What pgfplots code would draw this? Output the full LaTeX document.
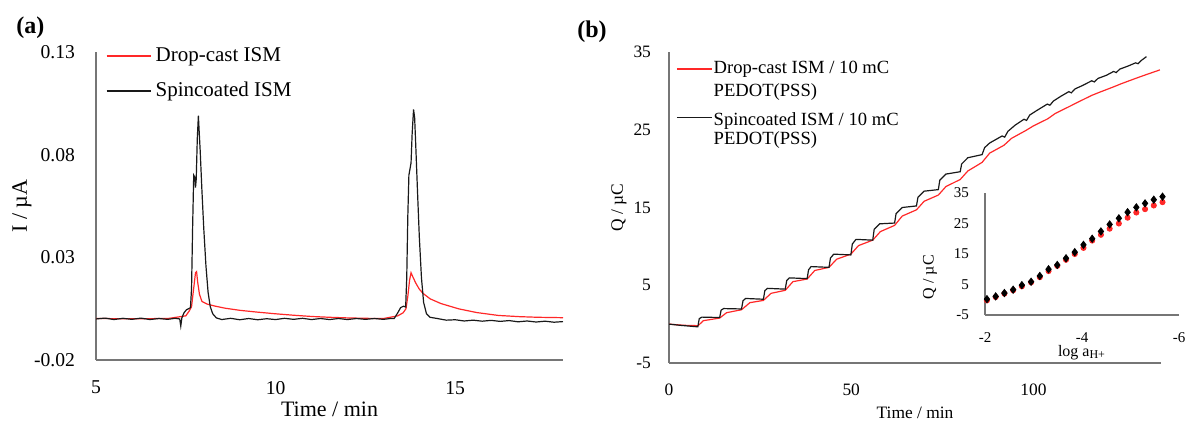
\documentclass[border=0pt]{standalone}
\usepackage{pgfplots}
\pgfplotsset{compat=1.18}
\usepackage{fontspec}
\setmainfont{Liberation Serif}
\definecolor{axgray}{RGB}{118,118,118}
\definecolor{myred}{RGB}{255,40,40}
\definecolor{myblack}{RGB}{25,25,25}
\pgfplotsset{
  myaxis/.style={
    scale only axis,
    axis x line*=bottom, axis y line*=left,
    axis line style={draw=axgray, line width=0.75pt, -},
    major tick length=0pt,
    tick style={draw=none},
  },
}
\begin{document}
\begin{tikzpicture}
\path[use as bounding box] (0,0) rectangle (593.5pt,211pt);
\node[font=\fontsize{12}{14}\selectfont\bfseries, anchor=west, inner sep=0pt] at (8pt,197pt) {(a)};
\node[font=\fontsize{12}{14}\selectfont\bfseries, anchor=west, inner sep=0pt] at (288.5pt,195pt) {(b)};

% ---------------- panel (a)
\begin{axis}[myaxis,
  at={(48pt,31pt)}, anchor=south west,
  width=233.5pt, height=154pt,
  xmin=5, xmax=18, ymin=-0.02, ymax=0.13,
  xtick={5,10,15}, xticklabels={5,10,15},
  ytick={-0.02,0.03,0.08,0.13}, yticklabels={-0.02,0.03,0.08,0.13},
  ticklabel style={font=\fontsize{9.8}{11}\selectfont},
  yticklabel style={xshift=-7pt},
  xticklabel style={yshift=-7pt},
  xlabel={Time / min}, ylabel={I / µA},
  label style={font=\fontsize{11}{13}\selectfont},
  xlabel style={at={(axis description cs:0.5,-0.159)}, anchor=center},
  ylabel style={at={(axis description cs:-0.1585,0.5)}, anchor=center},
  legend style={at={(axis description cs:0.02,1.03)}, anchor=north west, draw=none, fill=none,
    font=\fontsize{10.5}{12}\selectfont, row sep=5pt, inner sep=0pt},
  legend cell align=left,
  legend image code/.code={\draw[#1] (0pt,0pt) -- (22pt,0pt);},
]
\addlegendimage{draw=myred, line width=0.95pt}
\addlegendentry{Drop-cast ISM}
\addlegendimage{draw=myblack, line width=0.75pt}
\addlegendentry{Spincoated ISM}
\addplot[myred, line width=0.6pt, forget plot] coordinates {
(5.0,0.0002) (6.0,0.0001) (7.0,0.0002) (7.5,0.0015) (7.6,0.004) (7.66,0.006)
(7.72,0.015) (7.77,0.0225) (7.8,0.023) (7.83,0.018) (7.88,0.012) (7.95,0.0085)
(8.1,0.0072) (8.3,0.0063) (8.6,0.0052) (9.0,0.0042) (9.5,0.0033) (10.0,0.0025)
(10.5,0.0018) (11.0,0.0012) (11.5,0.0008) (12.0,0.0005) (12.5,0.0003) (13.0,0.0002)
(13.4,0.0015) (13.55,0.003) (13.63,0.005) (13.68,0.011) (13.73,0.019) (13.77,0.0225)
(13.82,0.0205) (13.9,0.0175) (14.0,0.0145) (14.1,0.0125) (14.3,0.0098) (14.6,0.0075)
(15.1,0.0049) (15.6,0.0031) (16.2,0.0017) (16.8,0.0011) (17.3,0.0008) (18.0,0.0006)
};
\addplot[myblack, line width=0.6pt, forget plot] coordinates {
(5.0,0.0000) (5.25,0.0004) (5.5,-0.0003) (5.75,0.0003) (6.0,-0.0002) (6.25,0.0004)
(6.5,-0.0003) (6.75,0.0002) (7.0,-0.0002) (7.2,0.0003) (7.33,0.0000) (7.36,-0.0035)
(7.39,0.0005) (7.45,0.0030) (7.52,0.0045) (7.58,0.0050) (7.63,0.0055) (7.66,0.0150)
(7.69,0.0450) (7.72,0.0700) (7.75,0.0690) (7.77,0.0640) (7.79,0.0680) (7.82,0.0880)
(7.85,0.0990) (7.87,0.0920) (7.9,0.0820) (7.95,0.0620) (8.0,0.0440) (8.06,0.0260)
(8.12,0.0130) (8.18,0.0060) (8.25,0.0025) (8.35,0.0005) (8.5,-0.0003) (8.75,0.0003)
(9.0,-0.0004) (9.25,0.0002) (9.5,-0.0004) (9.75,0.0001) (10.0,-0.0003) (10.25,0.0003)
(10.5,-0.0002) (10.75,0.0003) (11.0,-0.0003) (11.25,0.0002) (11.5,-0.0003) (11.75,0.0002)
(12.0,-0.0003) (12.25,0.0002) (12.5,-0.0002) (12.75,0.0002) (13.0,-0.0002) (13.2,0.0002)
(13.3,0.0002) (13.4,0.0030) (13.48,0.0055) (13.56,0.0062) (13.62,0.0058) (13.65,0.0200)
(13.68,0.0500) (13.71,0.0700) (13.74,0.0730) (13.77,0.0760) (13.8,0.0900) (13.84,0.1020)
(13.87,0.0980) (13.9,0.0850) (13.95,0.0620) (14.0,0.0400) (14.06,0.0200) (14.12,0.0080)
(14.2,0.0025) (14.3,0.0008) (14.5,0.0002) (14.75,-0.0006) (15.0,-0.0004) (15.25,-0.0010)
(15.5,-0.0006) (15.75,-0.0011) (16.0,-0.0007) (16.25,-0.0012) (16.5,-0.0008) (16.75,-0.0014)
(17.0,-0.0010) (17.25,-0.0015) (17.5,-0.0011) (17.75,-0.0016) (18.0,-0.0013)
};
\end{axis}

% ---------------- panel (b)
\begin{axis}[myaxis,
  at={(334.5pt,29.5pt)}, anchor=south west,
  width=246pt, height=155.5pt,
  xmin=0, xmax=135, ymin=-5, ymax=35,
  xtick={0,50,100}, xticklabels={0,50,100},
  ytick={-5,5,15,25,35}, yticklabels={-5,5,15,25,35},
  ticklabel style={font=\fontsize{8.7}{10}\selectfont},
  yticklabel style={xshift=-5.5pt},
  xticklabel style={yshift=-7pt},
  xlabel={Time / min}, ylabel={Q / µC},
  label style={font=\fontsize{8.7}{10}\selectfont},
  xlabel style={at={(axis description cs:0.5,-0.161)}, anchor=center},
  ylabel style={at={(axis description cs:-0.1016,0.5)}, anchor=center},
  legend style={at={(axis description cs:0.013,0.977)}, anchor=north west, draw=none, fill=none,
    font=\fontsize{9.3}{10.5}\selectfont, row sep=1.5pt, inner sep=0pt,
    nodes={inner sep=0.5pt, text height=6.6pt, text depth=2.2pt}},
  legend cell align=left,
  legend image code/.code={\draw[#1] (0pt,0pt) -- (17.5pt,0pt);},
]
\addlegendimage{draw=myred, line width=0.95pt}
\addlegendentry{Drop-cast ISM / 10 mC}
\addlegendimage{empty legend}
\addlegendentry{PEDOT(PSS)}
\addlegendimage{draw=myblack, line width=0.75pt}
\addlegendentry[text height=9.8pt]{Spincoated ISM / 10 mC}
\addlegendimage{empty legend}
\addlegendentry[text height=5pt]{PEDOT(PSS)}
\addplot[myred, line width=0.6pt, forget plot] coordinates {
(0,0) (4,-0.15) (8,-0.2) (9.4,0.44) (13.9,0.78) (15.8,1.47) (19.9,1.85) (22.2,2.76)
(25.9,3.05) (28,3.96) (31.9,4.35) (34,5.46) (37.9,5.8) (40,6.9) (43.9,7.3) (46,8.35)
(49.9,9.0) (52,10.1) (55.9,10.8) (58,11.9) (61.9,12.7) (64,13.9) (67.9,14.7) (70,15.8)
(73.9,16.6) (76,17.7) (79.9,18.6) (82,19.7) (85.9,20.8) (88,22.0) (91.9,23.0) (94,23.9)
(97.9,24.9) (100,25.5) (103.9,26.4) (106,27.1) (109.9,28.0) (112,28.5) (115.9,29.4)
(118,29.8) (121.9,30.5) (124,30.9) (128,31.6) (131,32.1) (134.7,32.7)
};
\addplot[myblack, line width=0.6pt, forget plot] coordinates {
(0,0) (3,-0.15) (7.9,-0.35) (8.3,0.7) (9,0.9) (13.9,0.85) (14.3,1.8) (15,2.0)
(19.9,1.95) (20.3,3.0) (21,3.3) (25.9,3.2) (26.3,4.3) (27,4.6) (31.9,4.5) (32.3,5.6)
(33,5.95) (37.9,5.85) (38.3,7.0) (39,7.4) (43.9,7.3) (44.3,8.5) (45.2,9.0) (49.9,8.9)
(50.3,10.3) (51.3,10.9) (55.9,10.8) (56.3,12.2) (57.8,12.9) (61.9,13.0) (62.3,14.2)
(64,15.0) (67.9,15.2) (68.3,16.3) (70,17.1) (73.9,17.3) (74.3,18.5) (76,19.3)
(79.9,19.6) (80.3,20.6) (82,21.4) (85.9,21.8) (86.6,22.7) (88,23.3) (91.4,24.2) (92.1,24.05)
(93,24.8) (95,25.6) (97.4,26.35) (98.1,26.2) (99,26.9) (101,27.5) (103.8,28.3) (104.5,28.15)
(105.5,28.7) (107.5,29.3) (109.7,29.9) (110.4,29.75) (111.4,30.25) (113.5,30.7) (116,31.3)
(116.7,31.15) (117.7,31.6) (120,32.0) (122,32.5) (122.7,32.35) (123.7,32.8) (126,33.2)
(128,33.6) (128.7,33.5) (129.7,33.95) (131,34.4)
};
\end{axis}

% ---------------- inset
\begin{axis}[myaxis,
  at={(492.5pt,53.5pt)}, anchor=south west,
  width=97pt, height=61pt,
  x dir=reverse,
  xmin=-6, xmax=-2, ymin=-5, ymax=35,
  xtick={-2,-4,-6}, xticklabels={-2,-4,-6},
  ytick={-5,5,15,25,35}, yticklabels={-5,5,15,25,35},
  ticklabel style={font=\fontsize{7.5}{9}\selectfont},
  yticklabel style={xshift=-4.5pt},
  xticklabel style={yshift=-5.3pt},
  xlabel={log a\textsubscript{H+}}, ylabel={Q / µC},
  label style={font=\fontsize{8}{9.5}\selectfont},
  xlabel style={at={(axis description cs:0.5,-0.31)}, anchor=center},
  ylabel style={at={(axis description cs:-0.284,0.31)}, anchor=center},
  clip=false,
]
\addplot[only marks, mark=*, mark size=1.3pt, color=myred] coordinates {
(-2.04,-0.2) (-2.22,0.9) (-2.40,2.0) (-2.58,3.1) (-2.76,4.4) (-2.95,5.7) (-3.13,7.4)
(-3.31,9.4) (-3.49,11.1) (-3.67,13.1) (-3.85,15.0) (-4.03,17.0) (-4.21,19.4) (-4.39,21.3)
(-4.57,23.3) (-4.76,25.0) (-4.94,26.9) (-5.12,28.6) (-5.30,29.7) (-5.48,30.9) (-5.66,32.0)
};
\addplot[only marks, mark=diamond*, mark size=1.8pt, color=black] coordinates {
(-2.04,0.2) (-2.22,1.1) (-2.40,2.2) (-2.58,3.3) (-2.76,4.8) (-2.95,5.9) (-3.13,7.8)
(-3.31,10.0) (-3.49,11.4) (-3.67,13.6) (-3.85,15.6) (-4.03,18.0) (-4.21,20.0) (-4.39,22.4)
(-4.57,24.7) (-4.76,26.7) (-4.94,28.7) (-5.12,30.3) (-5.30,31.6) (-5.48,32.8) (-5.66,33.8)
};
\end{axis}
\end{tikzpicture}
\end{document}
